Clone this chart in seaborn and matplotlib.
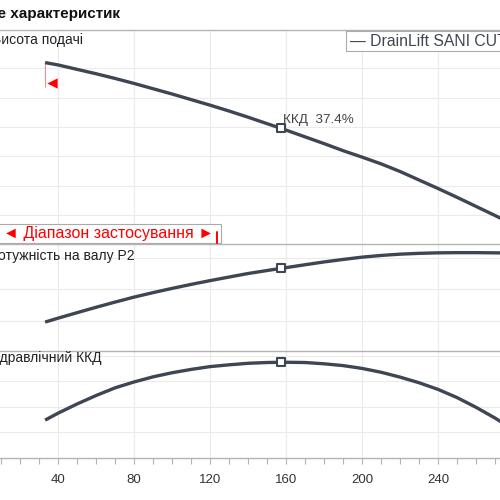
import numpy as np
import pandas as pd
import matplotlib.pyplot as plt
import seaborn as sns
from matplotlib.patches import Rectangle

# -------------------------------------------------------
# Dane
# -------------------------------------------------------
flow = [33.2, 40, 50, 60, 70, 80, 90, 100, 110, 120, 130, 140, 150, 157.4, 160,
        170, 180, 190, 200, 210, 220, 230, 240, 250, 260, 270, 280]
head = [6.19, 6.11, 5.96, 5.81, 5.65, 5.48, 5.30, 5.12, 4.93, 4.74, 4.54, 4.33, 4.11, 3.95, 3.89,
        3.66, 3.43, 3.19, 2.97, 2.74, 2.48, 2.19, 1.90, 1.60, 1.29, 0.98, 0.66]
power_p2 = [0.0959, 0.1083, 0.1257, 0.1429, 0.1594, 0.1752, 0.1895, 0.2029, 0.2156, 0.2276,
            0.2390, 0.2502, 0.2597, 0.2667, 0.2689, 0.2781, 0.2870, 0.2949, 0.3022, 0.3076,
            0.3117, 0.3143, 0.3159, 0.3165, 0.3165, 0.3159, 0.3149]
efficiency = [14.8, 17.5, 21.1, 24.4, 27.4, 29.7, 31.7, 33.3, 34.6, 35.7, 36.4, 37.0, 37.3, 37.4, 37.4,
              37.3, 36.8, 36.1, 35.0, 33.5, 31.6, 29.4, 26.8, 23.6, 19.8, 15.6, 10.9]

duty_flow = 157.4
duty_head = 3.95
duty_power = 0.2667
duty_eff = 37.4

range_start = 33.2
range_end = 123.7

xticks = [40, 80, 120, 160, 200, 240]

df = pd.DataFrame({"Q": flow, "H": head, "P2": power_p2, "ETA": efficiency})

# -------------------------------------------------------
# Styl
# -------------------------------------------------------
sns.set_theme(style="whitegrid")
plt.rcParams["font.family"] = ["Liberation Sans", "DejaVu Sans"]

line_col = "#3d4652"
spine_col = "#b3b3b3"
grid_col = "#ebebeb"

fig = plt.figure(figsize=(5, 5), dpi=100)
ax1 = fig.add_axes([0, 0.512, 1, 0.428])
ax2 = fig.add_axes([0, 0.298, 1, 0.214])
ax3 = fig.add_axes([0, 0.084, 1, 0.214])

panels = [(ax1, "H", duty_head, (0.01, 7.30), [1, 2, 3, 4, 5, 6]),
          (ax2, "P2", duty_power, (0.004, 0.344), [0.1, 0.2, 0.3]),
          (ax3, "ETA", duty_eff, (0, 41.8), [10, 20, 30, 40])]

for ax, col, duty, ylim, yt in panels:
    sns.lineplot(data=df, x="Q", y=col, ax=ax, color=line_col, linewidth=2.4,
                 solid_capstyle="butt", zorder=3)
    sns.scatterplot(x=[duty_flow], y=[duty], ax=ax, marker="s", s=34,
                    facecolor="white", edgecolor=line_col, linewidth=1.5, zorder=4)
    ax.set_xlim(9.47, 272.6)
    ax.set_ylim(*ylim)
    ax.set_xticks(xticks)
    ax.set_yticks(yt)
    ax.set_xlabel("")
    ax.set_ylabel("")
    ax.grid(True, color=grid_col, linewidth=0.8)
    ax.tick_params(left=False, labelleft=False)
    for s in ["left", "right"]:
        ax.spines[s].set_visible(False)
    for s in ["top", "bottom"]:
        ax.spines[s].set_color(spine_col)
        ax.spines[s].set_linewidth(1.0)
    ax.set_facecolor("white")

ax1.spines["bottom"].set_visible(False)
ax2.spines["bottom"].set_visible(False)
ax1.tick_params(bottom=False, labelbottom=False)
ax2.tick_params(bottom=False, labelbottom=False)

ax3.set_xticks(np.arange(10, 280, 10), minor=True)
ax3.tick_params(axis="x", which="both", bottom=True, direction="out", length=4.5,
                width=0.8, color=spine_col, labelsize=9.5, labelcolor="#333333", pad=7)
ax3.tick_params(axis="x", which="minor", labelbottom=False)

# Zakres zastosowania
ax1.vlines(range_start, 5.36, head[0], color="#ff8a8a", linewidth=0.8, zorder=2)
sns.scatterplot(x=[range_start + 3.6], y=[5.48], ax=ax1, marker="<", s=55,
                color="red", edgecolor="red", linewidth=0, zorder=4)
ax1.add_patch(Rectangle((0, 0.04), 125.6, 0.65, facecolor="white",
                        edgecolor="#aaaaaa", linewidth=0.8, zorder=5, clip_on=False))
ax1.text(11.1, 0.36, "◄ Діапазон застосування ►", color="red", fontsize=11.5,
         va="center", ha="left", zorder=6)
ax1.plot([range_end, range_end], [-0.02, 0.42], color="red", linewidth=1.4,
         zorder=6, clip_on=False)

ax1.text(158.5, 4.24, "ККД  37.4%", color="#444444", fontsize=9.7, va="center", ha="left")

# Legenda
fig.patches.append(Rectangle((0.691, 0.898), 0.4, 0.0406, transform=fig.transFigure,
                             facecolor="white", edgecolor="#aaaaaa", linewidth=0.8, zorder=5))
fig.text(0.70, 0.918, "— DrainLift SANI CUT", color=line_col, fontsize=11.3,
         va="center", ha="left", zorder=6)

# Tytuł i opisy paneli
fig.text(-0.064, 0.972, "Поле характеристик", fontsize=11, fontweight="bold",
         color="#111111", va="center", ha="left")
fig.text(-0.016, 0.920, "Висота подачі", fontsize=10, color="#222222", va="center", ha="left")
fig.text(-0.024, 0.488, "Потужність на валу P2", fontsize=10, color="#222222", va="center", ha="left")
fig.text(-0.022, 0.284, "Гідравлічний ККД", fontsize=10, color="#222222", va="center", ha="left")

plt.savefig("out.png", dpi=100)
plt.close()
